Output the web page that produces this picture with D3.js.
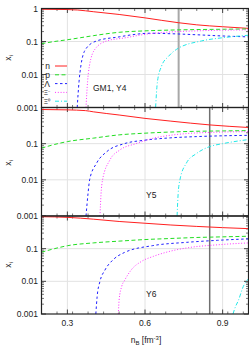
<!DOCTYPE html>
<html><head><meta charset="utf-8">
<script src="https://cdn.jsdelivr.net/npm/d3@7"></script>
<style>body{margin:0;background:#fff}svg{display:block}text{font-family:"Liberation Sans",Arial,sans-serif;fill:#222}</style>
</head><body><svg id="c" width="249" height="349"></svg>
<script>
// ---- data ----
const xTicks = [0.3, 0.6, 0.9];
const yTicks = [1, 0.1, 0.01, 0.001];
const yTickLabels = ["1", "0.1", "0.01", "0.001"];
const panelLabels = ["GM1, Y4", "Y5", "Y6"];
const vLines = [0.73, 0.85, 0.85];
const legendNames = ["n", "p", "Λ", "Ξ⁻", "Ξ⁰"];

// Panel 1: GM1, Y4
const n1 = [[0.2,0.95],[0.3,0.93],[0.34,0.9],[0.4,0.8],[0.5,0.66],[0.6,0.52],[0.73,0.37],[0.8,0.32],[0.9,0.28],[1.0,0.25]];
const p1 = [[0.2,0.086],[0.25,0.1],[0.3,0.113],[0.35,0.13],[0.4,0.15],[0.5,0.19],[0.6,0.21],[0.7,0.222],[0.8,0.23],[0.9,0.235],[1.0,0.24]];
const L1 = [[0.338,0.001],[0.345,0.006],[0.352,0.018],[0.371,0.059],[0.413,0.104],[0.5,0.138],[0.55,0.16],[0.62,0.178],[0.7,0.172],[0.8,0.16],[0.9,0.147],[1.0,0.138]];
const Xm1 = [[0.372,0.001],[0.378,0.006],[0.385,0.018],[0.407,0.059],[0.452,0.104],[0.52,0.128],[0.6,0.165],[0.7,0.195],[0.8,0.21],[0.9,0.22],[1.0,0.225]];
const X01 = [[0.641,0.001],[0.648,0.006],[0.664,0.018],[0.69,0.035],[0.722,0.058],[0.818,0.104],[0.9,0.13],[1.0,0.155]];

// Panel 2: Y5
const n2 = [[0.2,0.88],[0.3,0.86],[0.37,0.82],[0.4,0.76],[0.5,0.62],[0.6,0.5],[0.7,0.42],[0.85,0.33],[1.0,0.28]];
const p2 = [[0.2,0.075],[0.25,0.095],[0.3,0.114],[0.4,0.142],[0.5,0.175],[0.6,0.195],[0.7,0.21],[0.8,0.22],[0.9,0.225],[1.0,0.23]];
const L2 = [[0.372,0.001],[0.38,0.0043],[0.386,0.01],[0.413,0.029],[0.452,0.06],[0.52,0.1],[0.6,0.125],[0.7,0.145],[0.8,0.157],[0.9,0.165],[1.0,0.17]];
const Xm2 = [[0.426,0.001],[0.43,0.004],[0.436,0.01],[0.464,0.035],[0.503,0.067],[0.565,0.1],[0.63,0.14],[0.696,0.17],[0.76,0.19],[0.85,0.205],[1.0,0.215]];
const X02 = [[0.724,0.001],[0.728,0.004],[0.735,0.01],[0.76,0.029],[0.8,0.054],[0.85,0.083],[0.9,0.1],[1.0,0.13]];

// Panel 3: Y6
const n3 = [[0.2,0.95],[0.3,0.91],[0.4,0.8],[0.5,0.68],[0.6,0.6],[0.7,0.53],[0.8,0.48],[0.9,0.44],[1.0,0.41]];
const p3 = [[0.2,0.078],[0.25,0.1],[0.3,0.123],[0.4,0.15],[0.5,0.17],[0.6,0.19],[0.7,0.205],[0.8,0.22],[0.9,0.23],[1.0,0.24]];
const L3 = [[0.41,0.001],[0.415,0.0034],[0.426,0.01],[0.445,0.022],[0.477,0.046],[0.52,0.076],[0.63,0.124],[0.76,0.156],[0.88,0.18],[1.0,0.2]];
const Xm3 = [[0.497,0.001],[0.5,0.0027],[0.51,0.007],[0.522,0.011],[0.548,0.023],[0.587,0.041],[0.632,0.058],[0.696,0.083],[0.76,0.105],[0.89,0.133],[1.0,0.15]];
const X03 = [[0.94,0.001],[0.95,0.0017],[0.96,0.0025],[0.98,0.007],[1.0,0.012]];

const panelsData = [[n1,p1,L1,Xm1,X01],[n2,p2,L2,Xm2,X02],[n3,p3,L3,Xm3,X03]];

// ---- styles ----
const colors = ["#ff2020","#22dd22","#2020ff","#ff33ff","#22e8e8"];
const dashes = [null,"4,2.5","2.5,2.5","1,1.8","4,2,1,2"];

const svg = d3.select("#c");
const L = 41.5, R = 248.5;
const bands = [[8.5,107.5],[107.5,216],[216,314]];
const x = d3.scaleLinear().domain([0.2,1.0]).range([L,R]);
const minorX = d3.range(0.2,1.0001,0.06).map(v=>+v.toFixed(3)).filter(v=>!xTicks.some(t=>Math.abs(t-v)<1e-6));

bands.forEach((b,i)=>{
  const y = d3.scaleLog().domain([0.001,1]).range([b[1],b[0]]);
  const g = svg.append("g");
  const cid = "clip"+i;
  svg.append("clipPath").attr("id",cid).append("rect").attr("x",L).attr("y",b[0]).attr("width",R-L).attr("height",b[1]-b[0]);
  // grid
  xTicks.forEach(t=>g.append("line").attr("x1",x(t)).attr("x2",x(t)).attr("y1",b[0]).attr("y2",b[1]).attr("stroke","#e2e2e2").attr("stroke-width",1));
  yTicks.slice(1,3).forEach(t=>g.append("line").attr("x1",L).attr("x2",R).attr("y1",y(t)).attr("y2",y(t)).attr("stroke","#e2e2e2").attr("stroke-width",1));
  // minor y ticks
  const minors=[];
  [0.001,0.01,0.1].forEach(d=>{for(let k=2;k<10;k++)minors.push(d*k);});
  minors.forEach(v=>{
    g.append("line").attr("x1",L).attr("x2",L+2.5).attr("y1",y(v)).attr("y2",y(v)).attr("stroke","#555").attr("stroke-width",0.8);
    g.append("line").attr("x1",R).attr("x2",R-2.5).attr("y1",y(v)).attr("y2",y(v)).attr("stroke","#555").attr("stroke-width",0.8);
  });
  yTicks.forEach(v=>{
    g.append("line").attr("x1",L).attr("x2",L+4.5).attr("y1",y(v)).attr("y2",y(v)).attr("stroke","#444").attr("stroke-width",1);
    g.append("line").attr("x1",R).attr("x2",R-4.5).attr("y1",y(v)).attr("y2",y(v)).attr("stroke","#444").attr("stroke-width",1);
  });
  // x ticks
  [[b[1],-1],[b[0],1]].forEach(([yy,dir])=>{
    xTicks.forEach(t=>g.append("line").attr("x1",x(t)).attr("x2",x(t)).attr("y1",yy).attr("y2",yy+dir*4.5).attr("stroke","#444"));
    minorX.forEach(t=>g.append("line").attr("x1",x(t)).attr("x2",x(t)).attr("y1",yy).attr("y2",yy+dir*2.5).attr("stroke","#555").attr("stroke-width",0.8));
  });
  // vertical line
  g.append("line").attr("x1",x(vLines[i])).attr("x2",x(vLines[i])).attr("y1",b[0]).attr("y2",b[1])
    .attr("stroke", i===0?"#a8a8a8":"#707070").attr("stroke-width", i===0?2:1.5);
  // curves
  const line = d3.line().x(d=>x(d[0])).y(d=>y(d[1])).curve(d3.curveMonotoneX);
  panelsData[i].forEach((s,j)=>{
    g.append("path").attr("d",line(s)).attr("fill","none").attr("stroke",colors[j]).attr("stroke-width",1)
      .attr("stroke-dasharray",dashes[j]).attr("clip-path",`url(#${cid})`);
  });
  // frame
  g.append("rect").attr("x",L).attr("y",b[0]).attr("width",R-L).attr("height",b[1]-b[0]).attr("fill","none").attr("stroke","#222").attr("stroke-width",1.2);
  // y labels
  yTicks.forEach((v,k)=>{
    if(i>0 && k===0) return;
    g.append("text").attr("x",38).attr("y",y(v)+3).attr("text-anchor","end").attr("font-size",8.5).text(yTickLabels[k]);
  });
  // axis title
  const yc=[58,163,265][i];
  const t=g.append("text").attr("transform",`translate(11,${yc}) rotate(-90)`).attr("text-anchor","middle").attr("font-size",8.5);
  t.append("tspan").text("x");
  t.append("tspan").attr("font-size",6).attr("dy",2).text("i");
  // panel label
  const ly=[91,198,297][i];
  g.append("text").attr("x",i===0?93:146).attr("y",ly).attr("font-size",8.5).text(panelLabels[i]);
  if(i===0){
    legendNames.forEach((nm,k)=>{
      const yy=66+k*8.8;
      g.append("text").attr("x",50).attr("y",yy+3).attr("text-anchor","end").attr("font-size",k<3?8.5:6.5).text(nm);
      g.append("line").attr("x1",55).attr("x2",67).attr("y1",yy).attr("y2",yy).attr("stroke",colors[k]).attr("stroke-dasharray",dashes[k]).attr("stroke-width",1);
    });
  }
});
// x tick labels
xTicks.forEach(t=>svg.append("text").attr("x",x(t)).attr("y",326).attr("text-anchor","middle").attr("font-size",8.5).text(t));
const xl=svg.append("text").attr("x",146).attr("y",343).attr("text-anchor","middle").attr("font-size",8.5);
xl.append("tspan").text("n");
xl.append("tspan").attr("font-size",6).attr("dy",2).text("B");
xl.append("tspan").attr("dy",-2).text(" [fm");
xl.append("tspan").attr("font-size",6).attr("dy",-3).text("-3");
xl.append("tspan").attr("dy",3).text("]");
</script></body></html>
